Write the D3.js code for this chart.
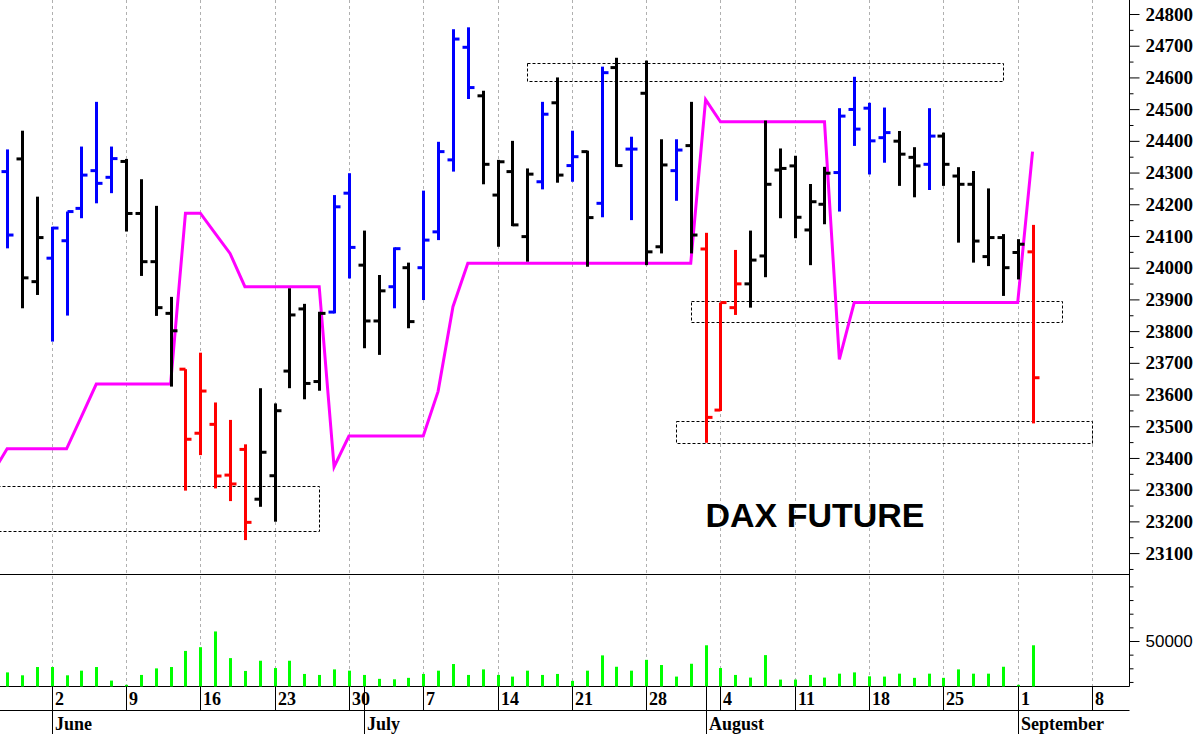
<!DOCTYPE html>
<html><head><meta charset="utf-8">
<script src="https://cdn.jsdelivr.net/npm/d3@7"></script>
<style>body{margin:0;background:#fff}svg{display:block}</style>
</head><body>
<svg id="chart" width="1200" height="734"></svg>
<script>
// ---------------- DATA ----------------
const calendarStart = "2025-05-27";
const calendarEnd = "2025-09-08";
const barStart = "2025-05-28";      // first OHLC / volume bar
const lineStart = "2025-05-27";     // first point of the magenta line
const title = "DAX FUTURE";

const open = [24303,24343,23956,24030,24085,24187,24306,24285,24335,24171,24019,23856,23680,23478,23506,23346,23427,23270,23344,23674,23870,23641,23860,24235,24008,23832,23940,24000,24000,24113,24340,24695,24542,24229,24303,24098,24271,24520,24322,24366,24203,24631,24374,24550,24066,24306,24385,24059,23551,23874,23949,24037,24308,24321,24119,24200,24300,24499,24503,24410,24399,24348,24326,24415,24289,24263,24035,24095,24048,24050];
const high = [24373,24432,24224,24129,24177,24382,24523,24382,24343,24279,24195,23908,23680,23732,23575,23520,23443,23620,23572,23935,23886,23861,24229,24298,24117,23977,24064,24016,24243,24397,24752,24758,24558,24340,24400,24313,24523,24600,24432,24369,24634,24662,24413,24653,24405,24405,24523,24110,23890,24056,24117,24464,24376,24353,24264,24318,24503,24602,24520,24505,24431,24380,24503,24426,24317,24305,24250,24106,24090,24135];
const low = [24061,23872,23914,23767,23849,24156,24203,24235,24114,23974,23848,23625,23297,23409,23304,23264,23141,23246,23199,23620,23585,23612,23856,23966,23746,23725,23872,23809,23898,24087,24303,24532,24263,24066,24131,24019,24247,24268,24271,24003,24159,24318,24150,24008,24045,24211,24045,23448,23548,23851,23874,23970,24156,24093,24008,24137,24177,24384,24294,24331,24258,24222,24245,24258,24079,24016,24005,23911,23963,23509];
const close = [24103,23968,24095,24125,24177,24292,24266,24344,24171,24019,23874,23801,23459,23611,23343,23318,23197,23418,23549,23851,23635,23856,24192,24064,23832,23927,24060,23830,24087,24366,24721,24568,24326,24334,24135,24295,24484,24292,24350,24158,24615,24322,24374,24050,24324,24371,24103,23528,23890,23949,24024,24263,24313,24159,24208,24298,24478,24437,24400,24426,24358,24321,24415,24326,24263,24084,24095,24000,24074,23653];
const signal = ["up","flat","flat","up","up","up","up","up","flat","flat","flat","flat","down","down","down","down","down","flat","flat","flat","flat","flat","up","up","flat","flat","up","flat","up","up","up","up","flat","flat","flat","flat","up","flat","up","flat","up","flat","up","flat","flat","up","flat","down","down","down","flat","flat","flat","flat","flat","flat","up","up","up","up","flat","flat","up","flat","flat","flat","flat","flat","flat","down"];
const volume = [15500,12300,21400,21400,12300,17400,21400,6500,1800,12700,19900,21400,39100,43200,60500,31200,17100,28300,20300,28300,13800,12700,18800,17400,12700,8400,7900,9500,13800,17400,24700,12700,18800,12700,10900,17400,12700,13800,6200,17400,34200,21700,17400,29300,23600,10900,25000,45300,20300,12700,9800,34500,7600,7600,12700,9800,14100,15500,11200,10900,14100,9500,14100,9500,18800,14100,14100,21700,1800,45300];
const stopLine = [23351,23429,23429,23429,23429,23429,23530,23633,23633,23633,23633,23633,23633,24172,24172,24108,24045,23940,23940,23940,23940,23940,23940,23372,23469,23469,23469,23469,23469,23469,23610,23877,24014,24014,24014,24014,24014,24014,24014,24014,24014,24014,24014,24014,24014,24014,24014,24014,24530,24460,24460,24460,24460,24460,24460,24460,24460,23711,23890,23890,23890,23890,23890,23890,23890,23890,23890,23890,23890,23890,24366];

const zoneFrom = ["2025-07-16","2025-05-27","2025-07-31","2025-07-30"];
const zoneTo   = ["2025-08-29","2025-06-26","2025-09-04","2025-09-08"];
const zoneLow  = [24589,23170,23828,23446];
const zoneHigh = [24645,23311,23895,23516];

const priceTicks = [23100,23200,23300,23400,23500,23600,23700,23800,23900,24000,24100,24200,24300,24400,24500,24600,24700,24800];
const priceMinorTicks = [23050,23150,23250,23350,23450,23550,23650,23750,23850,23950,24050,24150,24250,24350,24450,24550,24650,24750];
const volumeTicks = [50000];
const volumeMinorTicks = [5000,20000,35000,65000,80000,95000,110000];
const monthNames = ["June","July","August","September"];

// ---------------- LAYOUT ----------------
const W = 1200, H = 734;
const axisX = 1129.5;
const priceTop = 14, priceBottom = 553.1;
const panelSep = 574.5, volBase = 686.5, dayRowBottom = 710.5;
const colors = {up:"#0000ff", flat:"#000000", down:"#ff0000"};

const svg = d3.select("#chart");
const parse = d3.utcParse("%Y-%m-%d");
const fmt = d3.utcFormat("%Y-%m-%d");
const days = d3.utcDay.range(parse(calendarStart), d3.utcDay.offset(parse(calendarEnd), 1))
  .filter(d => d.getUTCDay() !== 0 && d.getUTCDay() !== 6);
const dayIndex = new Map(days.map((d, i) => [fmt(d), i]));

const x = d3.scaleLinear()
  .domain([dayIndex.get("2025-06-02"), dayIndex.get("2025-09-08")])
  .range([51.7, 1092]);
const y = d3.scaleLinear().domain([23100, 24800]).range([priceBottom, priceTop]);
const yv = d3.scaleLinear().domain([0, 50000]).range([volBase, 641]);

const b0 = dayIndex.get(barStart);
const l0 = dayIndex.get(lineStart);
const bars = open.map((o, i) => ({i: b0 + i, o, h: high[i], l: low[i], c: close[i], s: signal[i], v: volume[i]}));

// ---------------- GRID ----------------
const mondays = days.map((d, i) => ({d, i})).filter(e => e.d.getUTCDay() === 1);
svg.append("g").selectAll("line").data(mondays).join("line")
  .attr("x1", e => Math.round(x(e.i)) + 0.5).attr("x2", e => Math.round(x(e.i)) + 0.5)
  .attr("y1", 0).attr("y2", volBase)
  .attr("stroke", "#b0b0b0").attr("stroke-width", 1).attr("stroke-dasharray", "3,3");

// frame lines
const frame = svg.append("g").attr("stroke", "#000").attr("stroke-width", 1);
frame.append("line").attr("x1", 0).attr("x2", axisX).attr("y1", panelSep).attr("y2", panelSep);
frame.append("line").attr("x1", 0).attr("x2", axisX).attr("y1", volBase).attr("y2", volBase);
frame.append("line").attr("x1", 0).attr("x2", axisX).attr("y1", dayRowBottom).attr("y2", dayRowBottom);
frame.append("line").attr("x1", axisX).attr("x2", axisX).attr("y1", 0).attr("y2", volBase);

// ---------------- ZONES ----------------
svg.append("g").selectAll("rect").data(zoneFrom.map((f, k) => k)).join("rect")
  .attr("x", k => Math.round(x(dayIndex.get(zoneFrom[k]))) + 0.5)
  .attr("width", k => Math.round(x(dayIndex.get(zoneTo[k]))) - Math.round(x(dayIndex.get(zoneFrom[k]))))
  .attr("y", k => Math.round(y(zoneHigh[k])) + 0.5)
  .attr("height", k => Math.round(y(zoneLow[k])) - Math.round(y(zoneHigh[k])))
  .attr("fill", "none").attr("stroke", "#000").attr("stroke-width", 1).attr("stroke-dasharray", "3,2");

// ---------------- MAGENTA LINE ----------------
svg.append("path")
  .datum(stopLine.map((v, k) => [l0 + k, v]))
  .attr("fill", "none").attr("stroke", "#ff00ff").attr("stroke-width", 3).attr("stroke-linejoin", "miter")
  .attr("d", d3.line().x(p => x(p[0])).y(p => y(p[1])));

// ---------------- OHLC BARS ----------------
const gb = svg.append("g");
const bx = d => Math.round(x(d.i)) + 0.5;
gb.selectAll("line.hl").data(bars).join("line").attr("class", "hl")
  .attr("x1", bx).attr("x2", bx).attr("y1", d => y(d.h)).attr("y2", d => y(d.l))
  .attr("stroke", d => colors[d.s]).attr("stroke-width", 3);
gb.selectAll("line.o").data(bars).join("line").attr("class", "o")
  .attr("x1", d => bx(d) - 6).attr("x2", bx).attr("y1", d => y(d.o)).attr("y2", d => y(d.o))
  .attr("stroke", d => colors[d.s]).attr("stroke-width", 3);
gb.selectAll("line.c").data(bars).join("line").attr("class", "c")
  .attr("x1", bx).attr("x2", d => bx(d) + 6).attr("y1", d => y(d.c)).attr("y2", d => y(d.c))
  .attr("stroke", d => colors[d.s]).attr("stroke-width", 3);

// ---------------- VOLUME ----------------
svg.append("g").selectAll("rect").data(bars).join("rect")
  .attr("x", d => Math.round(x(d.i)) - 1).attr("width", 3)
  .attr("y", d => yv(d.v)).attr("height", d => volBase - yv(d.v))
  .attr("fill", "#00ff00");

// ---------------- TITLE ----------------
svg.append("text").attr("x", 815).attr("y", 527).attr("text-anchor", "middle")
  .attr("font-family", "Liberation Sans, Arial, sans-serif").attr("font-weight", "bold")
  .attr("font-size", 34).attr("fill", "#000").text(title);

// ---------------- AXES ----------------
const serif = "Liberation Serif, Times New Roman, serif";
const gPrice = svg.append("g").attr("transform", `translate(${axisX},0)`)
  .call(d3.axisRight(y).tickValues(priceTicks).tickSize(10).tickPadding(6).tickFormat(d3.format("d")));
gPrice.select(".domain").remove();
gPrice.selectAll("text").attr("font-family", serif).attr("font-weight", "bold").attr("font-size", 19).attr("fill", "#000");
const gPriceMinor = svg.append("g").attr("transform", `translate(${axisX},0)`)
  .call(d3.axisRight(y).tickValues(priceMinorTicks).tickSize(4).tickFormat(""));
gPriceMinor.select(".domain").remove();

const gVol = svg.append("g").attr("transform", `translate(${axisX},0)`)
  .call(d3.axisRight(yv).tickValues(volumeTicks).tickSize(10).tickPadding(6).tickFormat(d3.format("d")));
gVol.select(".domain").remove();
gVol.selectAll("text").attr("font-family", "Liberation Sans, Arial, sans-serif").attr("font-size", 17).attr("fill", "#000");
const gVolMinor = svg.append("g").attr("transform", `translate(${axisX},0)`)
  .call(d3.axisRight(yv).tickValues(volumeMinorTicks).tickSize(4).tickFormat(""));
gVolMinor.select(".domain").remove();

// day row
const gDays = svg.append("g");
gDays.selectAll("line").data(mondays).join("line")
  .attr("x1", e => Math.round(x(e.i)) + 0.5).attr("x2", e => Math.round(x(e.i)) + 0.5)
  .attr("y1", volBase).attr("y2", dayRowBottom).attr("stroke", "#000");
gDays.selectAll("text").data(mondays).join("text")
  .attr("x", e => Math.round(x(e.i)) + 3).attr("y", 705)
  .attr("font-family", serif).attr("font-weight", "bold").attr("font-size", 18).attr("fill", "#000")
  .text(e => e.d.getUTCDate());

// month row
const monthStarts = monthNames.map((name, k) => {
  const first = days.findIndex(d => d.getUTCMonth() === 5 + k);
  return {name, i: first};
});
const gMonths = svg.append("g");
gMonths.selectAll("line").data(monthStarts).join("line")
  .attr("x1", m => Math.round(x(m.i)) + 0.5).attr("x2", m => Math.round(x(m.i)) + 0.5)
  .attr("y1", volBase).attr("y2", H).attr("stroke", "#000");
gMonths.selectAll("text").data(monthStarts).join("text")
  .attr("x", m => Math.round(x(m.i)) + 3).attr("y", 730)
  .attr("font-family", serif).attr("font-weight", "bold").attr("font-size", 18).attr("fill", "#000")
  .text(m => m.name);
</script>
</body></html>
